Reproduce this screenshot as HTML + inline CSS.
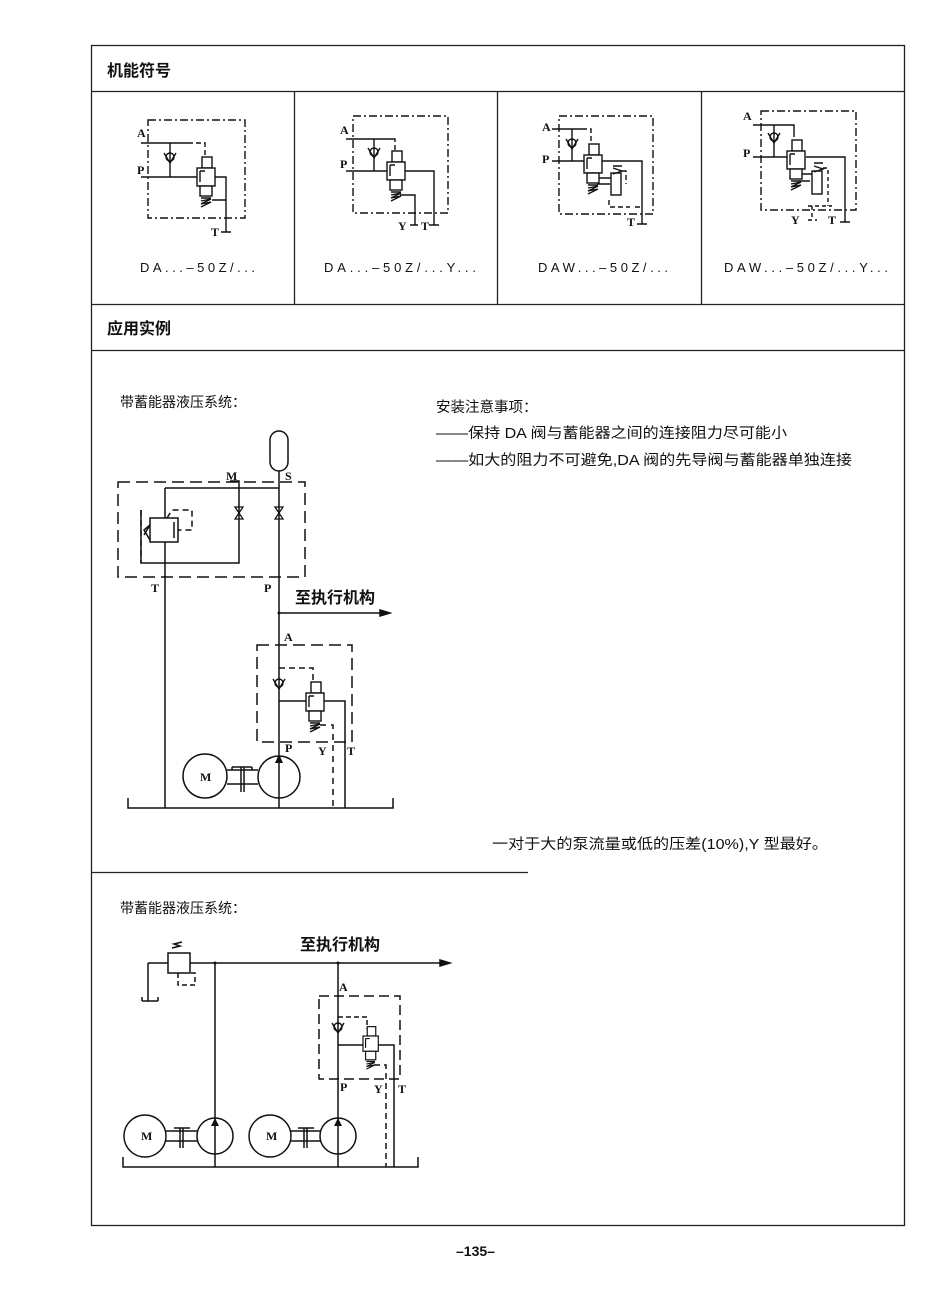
<!DOCTYPE html>
<html><head><meta charset="utf-8"><style>
html,body{margin:0;padding:0;background:#fff}
svg{display:block}
text{font-family:"Liberation Sans","Noto Sans CJK SC",sans-serif;fill:#111}
.s{font-family:"Liberation Serif","Noto Serif CJK SC",serif;font-size:12px;font-weight:bold}
</style></head><body>
<svg width="950" height="1289" viewBox="0 0 950 1289" xmlns="http://www.w3.org/2000/svg">
<defs>
<g id="chk"><path d="M-6,-5 L0,5 L6,-5" fill="none" stroke="#111" stroke-width="1.4"/><circle cx="0" cy="-1" r="4" fill="none" stroke="#111" stroke-width="1.4"/></g>
<g id="vb" fill="none" stroke="#111" stroke-width="1.4">
<rect x="5" y="-11" width="10" height="11" fill="#fff"/>
<rect x="0" y="0" width="18" height="18" fill="#fff"/>
<path d="M3,3 L3,14 M3,3 L8,3"/>
<rect x="3" y="18" width="12" height="10" fill="#fff"/>
<path d="M4,30 L14,30 M4,33 L14,31 L4,36 L14,34 L4,39"/>
</g>
<g id="nv" fill="none" stroke="#111" stroke-width="1.3"><path d="M-4,-6 L4,-6 L-4,6 L4,6 Z"/></g>
</defs>
<g fill="none" stroke="#222" stroke-width="1.3">
<rect x="91.5" y="45.5" width="813" height="1180"/>
<line x1="91" y1="91.5" x2="905" y2="91.5"/>
<line x1="91" y1="304.5" x2="905" y2="304.5"/>
<line x1="91" y1="350.5" x2="905" y2="350.5"/>
<line x1="294.5" y1="91" x2="294.5" y2="304"/>
<line x1="497.5" y1="91" x2="497.5" y2="304"/>
<line x1="701.5" y1="91" x2="701.5" y2="304"/>
<line x1="91" y1="872.5" x2="528" y2="872.5"/>
</g>
<text x="107" y="76" font-size="16" font-weight="bold">机能符号</text>
<text x="107" y="334" font-size="16" font-weight="bold">应用实例</text>
<text x="140" y="272" font-size="13" textLength="115" lengthAdjust="spacing">DA...–50Z/...</text>
<text x="324" y="272" font-size="13" textLength="152" lengthAdjust="spacing">DA...–50Z/...Y...</text>
<text x="538" y="272" font-size="13" textLength="130" lengthAdjust="spacing">DAW...–50Z/...</text>
<text x="724" y="272" font-size="13" textLength="164" lengthAdjust="spacing">DAW...–50Z/...Y...</text>

<!-- symbol 1 -->
<g stroke="#111" stroke-width="1.4" fill="none">
<rect x="148" y="120" width="97" height="98" stroke-dasharray="8,3,2,3"/>
<path d="M141,143 H188"/><path d="M188,143 H205 V155" stroke-dasharray="5,3"/>
<path d="M141,177 H197 M170,143 V177"/>
<path d="M215,177 H226 V232 M221,232 H231 M212,200 H226"/>
</g>
<use href="#chk" x="170" y="158"/><use href="#vb" x="197" y="168"/>
<text class="s" x="137" y="137">A</text><text class="s" x="137" y="174">P</text><text class="s" x="211" y="236">T</text>

<!-- symbol 2 -->
<g stroke="#111" stroke-width="1.4" fill="none">
<rect x="353" y="116" width="95" height="97" stroke-dasharray="8,3,2,3"/>
<path d="M346,139 H374 M374,139 H393"/><path d="M393,139 H395 V150" stroke-dasharray="5,3"/>
<path d="M346,171 H387 M374,139 V171"/>
<path d="M405,171 H434 V225 M429,225 H439"/>
<path d="M400,195 H415 V225 M410,225 H418"/>
</g>
<use href="#chk" x="374" y="153"/><use href="#vb" x="387" y="162"/>
<text class="s" x="340" y="134">A</text><text class="s" x="340" y="168">P</text>
<text class="s" x="398" y="230">Y</text><text class="s" x="421" y="230">T</text>

<!-- symbol 3 -->
<g stroke="#111" stroke-width="1.4" fill="none">
<rect x="559" y="116" width="94" height="98" stroke-dasharray="8,3,2,3"/>
<path d="M552,129 H582"/><path d="M582,129 H591 V141" stroke-dasharray="5,3"/>
<path d="M552,161 H584 M572,129 V161"/>
<path d="M601,161 H642 V224 M637,224 H647"/>
<path d="M597,178 H613 M597,184 H610"/>
<rect x="611" y="173" width="10" height="22" fill="#fff"/>
<path d="M613,166 H622 M613,168 L622,171 L613,174"/>
<path d="M622,171 H626 V184 M609,200 V207 H630 M635,207 H640" stroke-dasharray="5,3"/>
</g>
<use href="#chk" x="572" y="144"/><use href="#vb" x="584" y="155"/>
<text class="s" x="542" y="131">A</text><text class="s" x="542" y="163">P</text><text class="s" x="627" y="226">T</text>

<!-- symbol 4 -->
<g stroke="#111" stroke-width="1.4" fill="none">
<rect x="761" y="111" width="95" height="99" stroke-dasharray="8,3,2,3"/>
<path d="M753,125 H794 V137 M774,125 V157 M753,157 H787"/>
<path d="M806,157 H845 V222 M840,222 H850"/>
<path d="M801,174 H812 M801,181 H810"/>
<rect x="812" y="171" width="10" height="23" fill="#fff"/>
<path d="M814,163 H823 M814,166 L823,169 L814,172"/>
<path d="M823,168 H828 V206 M808,206 H832 M812,206 V218 M808,220 H817" stroke-dasharray="4,3"/>
</g>
<use href="#chk" x="774" y="138"/><use href="#vb" x="787" y="151"/>
<text class="s" x="743" y="120">A</text><text class="s" x="743" y="157">P</text>
<text class="s" x="791" y="224">Y</text><text class="s" x="828" y="224">T</text>

<!-- application text -->
<text x="120" y="407" font-size="14">带蓄能器液压系统：</text>
<text x="436" y="412" font-size="14.5">安装注意事项：</text>
<text x="436" y="438" font-size="14.5" textLength="351" lengthAdjust="spacingAndGlyphs">——保持 DA 阀与蓄能器之间的连接阻力尽可能小</text>
<text x="436" y="465" font-size="14.5" textLength="416" lengthAdjust="spacingAndGlyphs">——如大的阻力不可避免,DA 阀的先导阀与蓄能器单独连接</text>
<text x="492" y="849" font-size="14.5" textLength="336" lengthAdjust="spacingAndGlyphs">一对于大的泵流量或低的压差(10%),Y 型最好。</text>
<text x="120" y="913" font-size="14">带蓄能器液压系统：</text>
<text x="295" y="603" font-size="16" font-weight="bold">至执行机构</text>
<text x="300" y="950" font-size="16" font-weight="bold">至执行机构</text>
<text x="456" y="1256" font-size="14" font-weight="bold">–135–</text>

<!-- diagram 1 -->
<g stroke="#111" stroke-width="1.5" fill="none">
<rect x="270" y="431" width="18" height="40" rx="9"/>
<path d="M118,482 H305 V577 H118 Z" stroke-dasharray="12,6"/>
<path d="M165,488 H279 M279,471 V808 M230,481 H239 V563 H141 V510" />
<path d="M141,510 V563" stroke-dasharray="6,4"/>
<path d="M165,488 V808"/>
<rect x="150" y="518" width="28" height="24" fill="#fff"/>
<path d="M167,518 L172,510 H192 V530 H178" stroke-dasharray="6,4"/>
<path d="M174,522 V538 M144,535 L150,525 L144,530 L150,540"/>
<path d="M279,613 H388"/><path d="M380,610 L390,613 L380,616 Z" fill="#111"/>
<path d="M257,645 H352 V742 H257 Z" stroke-dasharray="12,6"/>
<path d="M279,668 H313 V681" stroke-dasharray="6,4"/>
<path d="M279,701 H306 M323,701 H345 V808"/>
<path d="M320,725 H333 V808" stroke-dasharray="6,5"/>
<circle cx="205" cy="776" r="22"/><circle cx="279" cy="777" r="21"/>
<path d="M227,770 H258 M227,784 H258 M232,767 H252 M241,767 V792 M244,767 V792 M232,767 V770 M252,767 V770"/>
<path d="M128,798 V808 H393 V798"/>
</g>
<circle cx="279" cy="613" r="1.5" fill="#111"/>
<path d="M275,763 L279,754 L283,763 Z" fill="#111"/>
<use href="#nv" x="239" y="513"/><use href="#nv" x="279" y="513"/>
<use href="#chk" x="279" y="684"/><use href="#vb" x="306" y="693"/>
<text class="s" x="226" y="480">M</text><text class="s" x="285" y="480">S</text>
<text class="s" x="151" y="592">T</text><text class="s" x="264" y="592">P</text>
<text class="s" x="284" y="641">A</text><text class="s" x="285" y="752">P</text>
<text class="s" x="318" y="755">Y</text><text class="s" x="347" y="755">T</text>
<text class="s" x="200" y="781" font-size="11">M</text>

<!-- diagram 2 -->
<g stroke="#111" stroke-width="1.5" fill="none">
<rect x="168" y="953" width="22" height="20" fill="#fff"/>
<path d="M148,963 H168 M190,963 H442 M148,963 V1001 M142,1001 H158 M142,1001 V997 M158,1001 V997"/>
<path d="M440,960 L450,963 L440,966 Z" fill="#111"/>
<path d="M178,973 V985 H195 V973 H190" stroke-dasharray="5,3"/>
<path d="M172,948 L180,946 L174,944 L182,942"/>
<path d="M215,963 V1167 M338,963 V1167"/>
<path d="M319,996 H400 V1079 H319 Z" stroke-dasharray="10,5"/>
<path d="M338,1017 H367 V1029" stroke-dasharray="5,3"/>
<path d="M338,1045 H363 M378,1045 H394 V1167"/>
<path d="M374,1065 H386 V1167" stroke-dasharray="6,4"/>
<circle cx="145" cy="1136" r="21"/><circle cx="215" cy="1136" r="18"/>
<circle cx="270" cy="1136" r="21"/><circle cx="338" cy="1136" r="18"/>
<path d="M166,1131 H197 M166,1141 H197 M174,1128 H190 M180,1128 V1148 M183,1128 V1148"/>
<path d="M291,1131 H320 M291,1141 H320 M298,1128 H314 M304,1128 V1148 M307,1128 V1148"/>
<path d="M123,1157 V1167 H418 V1157"/>
</g>
<circle cx="215" cy="963" r="1.5" fill="#111"/><circle cx="338" cy="963" r="1.5" fill="#111"/>
<path d="M211,1126 L215,1118 L219,1126 Z" fill="#111"/><path d="M334,1126 L338,1118 L342,1126 Z" fill="#111"/>
<use href="#chk" x="338" y="1028"/>
<g transform="translate(363,1036) scale(0.85)"><use href="#vb"/></g>
<text class="s" x="339" y="991">A</text><text class="s" x="340" y="1091">P</text>
<text class="s" x="374" y="1093">Y</text><text class="s" x="398" y="1093">T</text>
<text class="s" x="141" y="1140" font-size="10">M</text><text class="s" x="266" y="1140" font-size="10">M</text>
</svg>
</body></html>
